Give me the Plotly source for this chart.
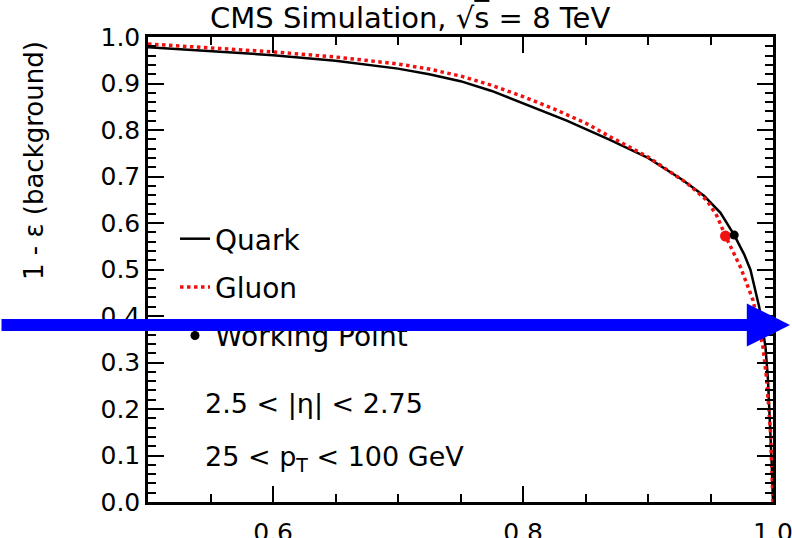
import plotly.graph_objects as go

# ---------------- data ----------------
quark_eff = [0.500, 0.550, 0.600, 0.650, 0.700, 0.725, 0.750, 0.775, 0.800, 0.835,
             0.870, 0.900, 0.928, 0.945, 0.958, 0.969, 0.977, 0.982, 0.989, 0.994,
             0.996, 0.998, 0.999, 1.000]
quark_rej = [0.978, 0.970, 0.961, 0.949, 0.932, 0.920, 0.905, 0.884, 0.858, 0.820,
             0.778, 0.740, 0.692, 0.658, 0.622, 0.574, 0.532, 0.499, 0.419, 0.333,
             0.262, 0.160, 0.080, 0.000]

gluon_eff = [0.500, 0.550, 0.600, 0.650, 0.700, 0.725, 0.750, 0.775, 0.800, 0.825,
             0.850, 0.870, 0.900, 0.931, 0.947, 0.955, 0.962, 0.974, 0.984, 0.992,
             0.995, 0.998, 0.999, 1.000]
gluon_rej = [0.985, 0.977, 0.968, 0.957, 0.942, 0.931, 0.916, 0.896, 0.872, 0.845,
             0.815, 0.785, 0.742, 0.686, 0.649, 0.616, 0.572, 0.505, 0.434, 0.333,
             0.262, 0.150, 0.080, 0.000]

wp_quark = [0.969, 0.574]
wp_gluon = [0.962, 0.572]

x_tickvals = [0.6, 0.8, 0.99999]
x_ticktext = ["0.6", "0.8", "1.0"]

legend_names = ["Quark", "Gluon", "Working Point"]
title_text = "CMS Simulation, √<span style='text-decoration:overline'>s</span> = 8 TeV"
ytitle_text = "1 - ε (background)"
cut_texts = ["2.5 < |η| < 2.75", "25 < p<sub>T</sub> < 100 GeV"]

# ---------------- layout geometry (pixels) ----------------
W, H = 792, 538
L, R, T, B = 148, 773, 37, 502
FONT = "DejaVu Sans"


def px2x(px):
    return (px - L) / (R - L)


def py2y(py):
    return (B - py) / (B - T)


fig = go.Figure()

fig.add_trace(go.Scatter(x=quark_eff, y=quark_rej, mode="lines", name=legend_names[0],
                         line=dict(color="black", width=2.5), legendgroup="q"))
fig.add_trace(go.Scatter(x=gluon_eff, y=gluon_rej, mode="lines", name=legend_names[1],
                         line=dict(color="#f01010", width=3.5, dash="dot"), legendgroup="g"))
fig.add_trace(go.Scatter(x=[wp_gluon[0]], y=[wp_gluon[1]], mode="markers", showlegend=False,
                         marker=dict(color="#f01010", size=11)))
fig.add_trace(go.Scatter(x=[wp_quark[0]], y=[wp_quark[1]], mode="markers", name=legend_names[2],
                         marker=dict(color="black", size=9), legendgroup="w"))

axis_common = dict(
    showline=True, linecolor="black", linewidth=2.5, mirror="ticks",
    ticks="inside", ticklen=16, tickwidth=2, tickcolor="black",
    showgrid=False, zeroline=False, ticklabeloverflow="allow",
    tickfont=dict(family=FONT, size=25, color="black"),
)

fig.update_xaxes(range=[0.5, 1.0], tickmode="array", tickvals=x_tickvals, ticktext=x_ticktext,
                 ticklabelstandoff=6,
                 minor=dict(tick0=0, dtick=0.05, ticks="inside", ticklen=8, tickwidth=2,
                            tickcolor="black", showgrid=False),
                 **axis_common)
fig.update_yaxes(range=[0.0, 1.0], tick0=0, dtick=0.1, tickformat=".1f",
                 minor=dict(dtick=0.02, ticks="inside", ticklen=8, tickwidth=2,
                            tickcolor="black", showgrid=False),
                 **axis_common)

annotations = [
    dict(text=title_text, x=px2x(410), y=py2y(18), xref="paper", yref="paper",
         showarrow=False, xanchor="center", yanchor="middle",
         font=dict(family=FONT, size=29, color="black")),
    dict(text=ytitle_text, x=px2x(34), y=py2y(161), xref="paper", yref="paper",
         showarrow=False, textangle=-90, xanchor="center", yanchor="middle",
         font=dict(family=FONT, size=26, color="black")),
    dict(text=cut_texts[0], x=px2x(203), y=py2y(404), xref="paper", yref="paper",
         showarrow=False, xanchor="left", yanchor="middle",
         font=dict(family=FONT, size=27, color="black")),
    dict(text=cut_texts[1], x=px2x(203), y=py2y(458), xref="paper", yref="paper",
         showarrow=False, xanchor="left", yanchor="middle",
         font=dict(family=FONT, size=27, color="black")),
    # blue overlay arrow
    dict(text="", x=px2x(790), y=py2y(325), xref="paper", yref="paper",
         ax=-810, ay=0, axref="pixel", ayref="pixel",
         showarrow=True, arrowhead=2, arrowsize=0.72, arrowwidth=12,
         arrowcolor="#0000ff", standoff=0, startstandoff=0),
]

fig.update_layout(
    width=W, height=H, template="none",
    paper_bgcolor="white", plot_bgcolor="white",
    margin=dict(l=L, r=W - R, t=T, b=H - B, autoexpand=False),
    showlegend=True,
    legend=dict(x=px2x(175), y=py2y(214), xanchor="left", yanchor="top",
                bgcolor="rgba(0,0,0,0)", borderwidth=0,
                font=dict(family=FONT, size=28, color="black"),
                traceorder="grouped", tracegroupgap=9, itemwidth=30),
    annotations=annotations,
)

fig.write_html("out.html")
